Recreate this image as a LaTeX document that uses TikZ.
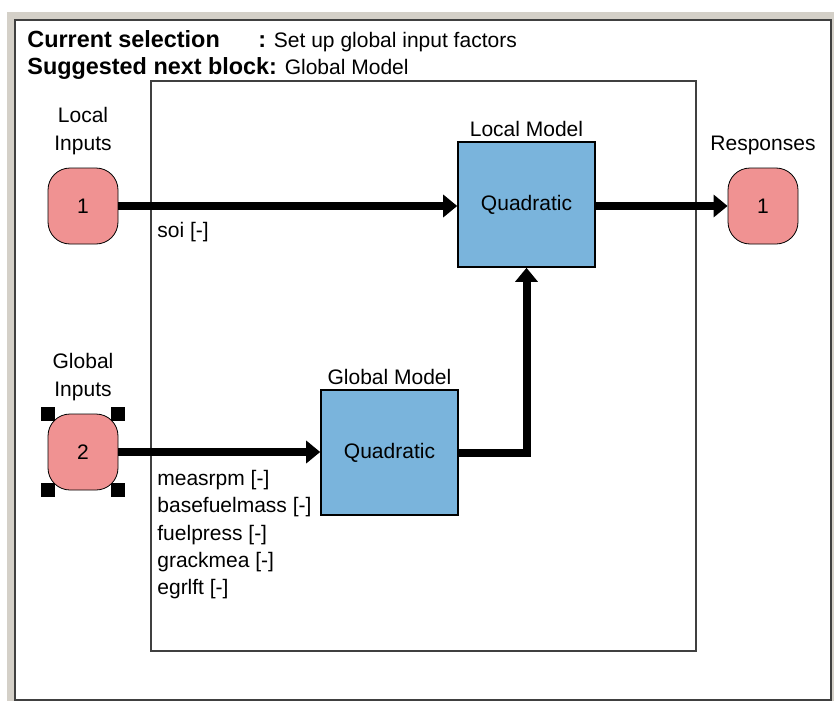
\documentclass[tikz,border=0pt]{standalone}
\usepackage{fontspec}
\setmainfont{Liberation Sans}
\usetikzlibrary{positioning,arrows.meta}
\definecolor{winGray}{RGB}{212,208,200}
\definecolor{portPink}{RGB}{240,146,146}
\definecolor{blockBlue}{RGB}{122,180,220}
\definecolor{frameGray}{RGB}{64,64,64}

\begin{document}
\begin{tikzpicture}[x=0.5pt, y=-0.5pt, every node/.style={font=\fontsize{10.5}{14}\selectfont}]
  \tikzset{
    port/.style={draw, thin, fill=portPink, rounded corners=11pt, minimum width=35pt, minimum height=38pt, inner sep=0pt},
    block/.style={draw, thick, fill=blockBlue, minimum width=68.5pt, minimum height=62.5pt, inner sep=0pt},
    wire/.style={line width=4pt, -{Triangle[length=7pt,width=11pt]}},
    sig/.style={anchor=west, inner sep=0pt},
    hdr/.style={anchor=base west, inner sep=0pt}
  }
  \newcommand{\hdrbf}[1]{{\fontsize{11.7}{14}\selectfont\bfseries #1}}
  \useasboundingbox (0,0) rectangle (834,701);
  \fill[winGray] (7,12) rectangle (834,701);
  \draw[frameGray, line width=1pt, fill=white] (15,20) rectangle (831,700);
  \draw[frameGray, line width=1pt] (151,81) rectangle (696,651);

  % header
  \node[hdr] (cur) at (27,48) {\hdrbf{Current selection}};
  \node[hdr] (curval) at (258,48) {\hdrbf{:} Set up global input factors};
  \node[hdr] (sug) at (27,75) {\hdrbf{Suggested next block:} Global Model};

  % ports
  \node[port] (in1) at (83,206) {1};
  \node[port] (in2) at (83,452) {2};
  \node[port] (out1) at (763,206) {1};
  \node[align=center, above=3pt of in1] (in1lab) {Local\\Inputs};
  \node[align=center, above=3pt of in2] (in2lab) {Global\\Inputs};
  \node[above=3pt of out1] (out1lab) {Responses};

  % selection handles
  \foreach \c in {north west, north east, south west, south east}
    \fill (in2.\c) +(-7,-7) rectangle +(7,7);

  % blocks
  \node[block, label={[inner sep=2pt]above:Local Model}] (lm) at (526.5,204.5) {Quadratic};
  \node[block, label={[inner sep=2pt]above:Global Model}] (gm) at (389.5,452.5) {Quadratic};

  % wires
  \draw[wire] (in1.east) -- (in1.east -| lm.west);
  \draw[wire] (in2.east) -- (in2.east -| gm.west);
  \draw[wire] (gm.east) -| (lm.south);
  \draw[wire] (lm.east |- out1.west) -- (out1.west);

  % signal names
  \node[sig] (soi) at (157,232) {soi [-]};
  \node[sig] (sg1) at (157,480) {measrpm [-]};
  \node[sig, below=3.5pt of sg1.south west, anchor=north west] (sg2) {basefuelmass [-]};
  \node[sig, below=3.5pt of sg2.south west, anchor=north west] (sg3) {fuelpress [-]};
  \node[sig, below=3.5pt of sg3.south west, anchor=north west] (sg4) {grackmea [-]};
  \node[sig, below=3.5pt of sg4.south west, anchor=north west] (sg5) {egrlft [-]};
\end{tikzpicture}
\end{document}
